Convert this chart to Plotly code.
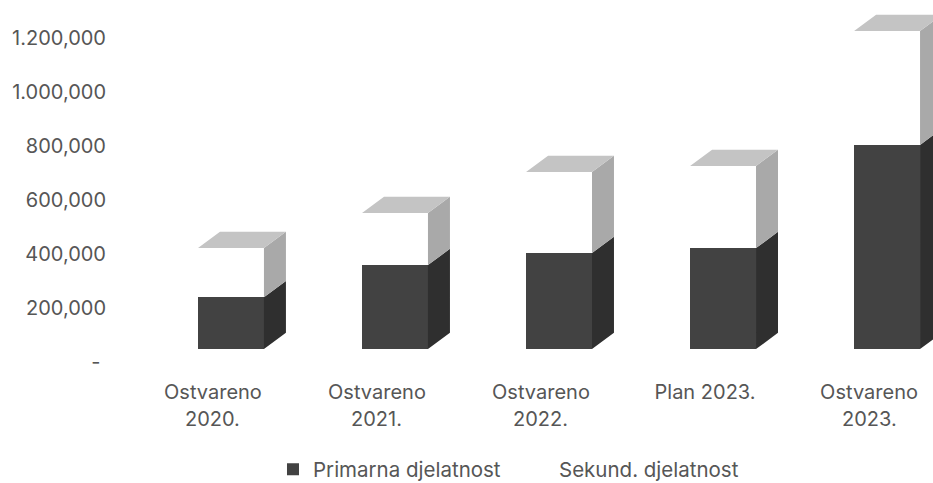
import plotly.graph_objects as go

line1 = ["Ostvareno", "Ostvareno", "Ostvareno", "Plan 2023.", "Ostvareno"]
line2 = ["2020.", "2021.", "2022.", "", "2023."]
primary = [192000, 311000, 356000, 374000, 756000]
secondary = [182000, 193000, 300000, 304000, 422000]
tick_values = [0, 200000, 400000, 600000, 800000, 1000000, 1200000]
tick_labels = ["-\u00a0", "200,000", "400,000", "600,000", "800,000", "1.000,000", "1.200,000"]

FONT = "Inter, Roboto, sans-serif"
TXT = "#565656"
FLOOR = 48000
WIDTH = 0.402
DX = 0.134
DY = 60000
LABEL_SHIFT = -0.11

xs = list(range(len(line1)))
label_xs = [i + LABEL_SHIFT for i in xs]
tops1 = [FLOOR + p for p in primary]
tops2 = [t + s for t, s in zip(tops1, secondary)]


def side(bottoms, tops):
    px, py = [], []
    for i, b, t in zip(xs, bottoms, tops):
        r = i + WIDTH / 2
        px += [r, r + DX, r + DX, r, r, None]
        py += [b, b + DY, t + DY, t, b, None]
    return px, py


def top(tops):
    px, py = [], []
    for i, t in zip(xs, tops):
        l, r = i - WIDTH / 2, i + WIDTH / 2
        px += [l, l + DX, r + DX, r, l, None]
        py += [t, t + DY, t + DY, t, t, None]
    return px, py


fig = go.Figure()
fig.add_bar(x=xs, y=primary, base=[FLOOR] * len(xs), width=WIDTH, name="Primarna djelatnost",
            marker=dict(color="#424242", line=dict(width=0)))
fig.add_bar(x=xs, y=secondary, base=tops1, width=WIDTH, name="Sekund. djelatnost",
            marker=dict(color="#ffffff", line=dict(width=0)))

for (px, py), col in [
    (side([FLOOR] * len(xs), tops1), "#2f2f2f"),
    (side(tops1, tops2), "#a9a9a9"),
    (top(tops2), "#c4c4c4"),
]:
    fig.add_scatter(x=px, y=py, mode="lines", fill="toself", fillcolor=col,
                    line=dict(width=0, color=col), showlegend=False, hoverinfo="skip")

annotations = [
    dict(x=x, y=0, xref="x", yref="paper", yanchor="middle", xanchor="center", yshift=-49,
         text=t, showarrow=False, font=dict(family=FONT, size=20, color=TXT))
    for x, t in zip(label_xs, line2) if t
]

fig.update_layout(
    width=933, height=483, paper_bgcolor="white", plot_bgcolor="white",
    margin=dict(l=116, r=0, t=0, b=113),
    barmode="overlay", bargap=0,
    font=dict(family=FONT, size=20, color=TXT),
    xaxis=dict(range=[-0.701, 4.28], tickmode="array", tickvals=label_xs, ticktext=line1,
               showgrid=False, zeroline=False, showline=False, ticks="", ticklabelstandoff=8),
    yaxis=dict(range=[-29630, 1340740], tickmode="array", tickvals=tick_values, ticktext=tick_labels,
               showgrid=False, zeroline=False, showline=False, ticks="", ticklabelstandoff=9),
    legend=dict(orientation="h", xref="container", x=0.2926, xanchor="left",
                yref="container", y=0.028, yanchor="middle",
                entrywidth=201, entrywidthmode="pixels", font=dict(size=20.5, color=TXT)),
    annotations=annotations,
)
fig.write_html("out.html", post_script="document.body.style.margin='0';",
               config={"displayModeBar": False})
